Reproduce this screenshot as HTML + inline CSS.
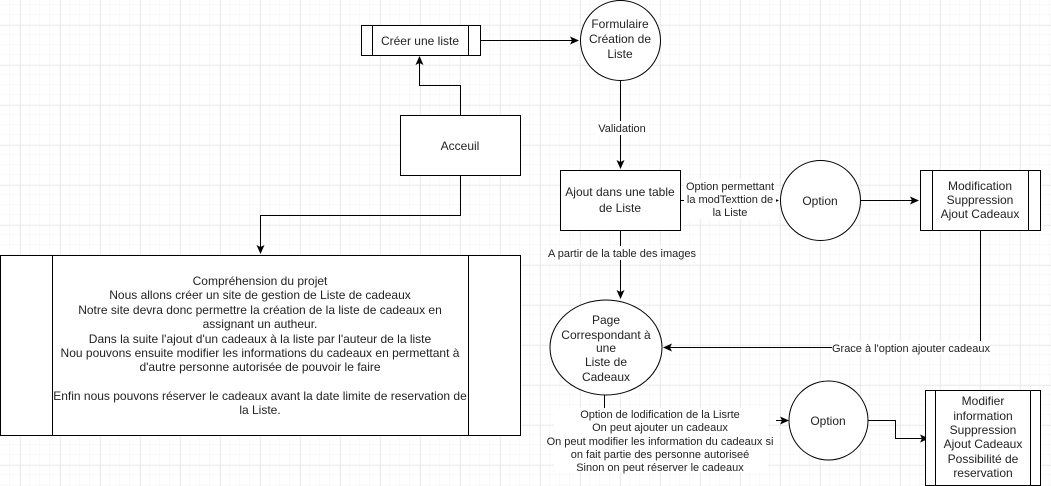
<!DOCTYPE html>
<html><head><meta charset="utf-8"><style>
body{margin:0;width:1051px;height:486px;overflow:hidden;background:#fff;}
svg{display:block;font-family:"Liberation Sans",Arial,sans-serif;font-size:12px;}
</style></head><body>
<svg width="1051" height="486" viewBox="0 0 1051 486">
<defs>
<pattern id="mi" width="10" height="10" patternUnits="userSpaceOnUse" x="0" y="5"><path d="M10 0V10M0 10H10" stroke="#f3f3f3" stroke-width="1" fill="none"/></pattern>
<pattern id="ma" width="40" height="40" patternUnits="userSpaceOnUse" x="20.5" y="25.5"><path d="M0 0V40M0 0H40" stroke="#dedede" stroke-width="1" fill="none"/></pattern>
<marker id="a" markerWidth="10" markerHeight="10" refX="8" refY="4" orient="auto" markerUnits="userSpaceOnUse"><path d="M0 0L9 4L0 8L2 4Z" fill="#000"/></marker>
</defs>
<rect width="1051" height="486" fill="url(#mi)"/>
<rect width="1051" height="486" fill="url(#ma)"/>
<g stroke="#000" stroke-width="1" fill="none">
<path d="M460.5 115V85.5H419.5V57" marker-end="url(#a)"/>
<path d="M460.5 175V215.5H260.5V253" marker-end="url(#a)"/>
<path d="M480 40.5H578" marker-end="url(#a)"/>
<path d="M620.5 80V168" marker-end="url(#a)"/>
<path d="M680 200.5H778" marker-end="url(#a)"/>
<path d="M860 200.5H918" marker-end="url(#a)"/>
<path d="M620.5 230V298" marker-end="url(#a)"/>
<path d="M980.5 230V347.5H664" marker-end="url(#a)"/>
<path d="M604.5 395V410"/>
<path d="M776 420.5H788" marker-end="url(#a)"/>
<path d="M867 420.5H895.5V438.5H928" marker-end="url(#a)"/>
<rect x="0.5" y="255.5" width="520" height="180" fill="#fff"/>
<path d="M52.5 255.5V435.5M468.5 255.5V435.5"/>
<rect x="361.5" y="25.5" width="119" height="30" fill="#fff"/>
<path d="M372.5 25.5V55.5M468.5 25.5V55.5"/>
<rect x="400.5" y="115.5" width="120" height="60" fill="#fff"/>
<circle cx="620.5" cy="40.5" r="40" fill="#fff"/>
<rect x="560.5" y="170.5" width="120" height="60" fill="#fff"/>
<circle cx="820.5" cy="200.5" r="40" fill="#fff"/>
<rect x="920.5" y="170.5" width="120" height="60" fill="#fff"/>
<path d="M932.5 170.5V230.5M1028.5 170.5V230.5"/>
<ellipse cx="606" cy="347.5" rx="56" ry="47.5" fill="#fff"/>
<circle cx="828.5" cy="420.5" r="39.5" fill="#fff"/>
<rect x="925.5" y="390.5" width="115" height="95" fill="#fff"/>
<path d="M935.5 390.5V485.5M1030.5 390.5V485.5"/>
</g>
<g fill="#222" text-anchor="middle">
<text x="420" y="45">Créer une liste</text>
<text x="620" y="28">Formulaire</text><text x="620" y="43">Création de</text><text x="620" y="58">Liste</text>
<text x="460" y="150">Acceuil</text>
<text x="620" y="196">Ajout dans une table</text><text x="620" y="212">de Liste</text>
<text x="820" y="205">Option</text>
<text x="980" y="190">Modification</text><text x="980" y="204">Suppression</text><text x="980" y="218">Ajout Cadeaux</text>
<text x="606" y="324">Page</text><text x="606" y="339">Correspondant à</text><text x="606" y="352">une</text><text x="606" y="366">Liste de</text><text x="606" y="381">Cadeaux</text>
<text x="828" y="425">Option</text>
<text x="983" y="405">Modifier</text><text x="983" y="420">information</text><text x="983" y="434">Suppression</text><text x="983" y="448">Ajout Cadeaux</text><text x="983" y="463">Possibilité de</text><text x="983" y="477">reservation</text>
<g font-size="12">
<text x="260" y="285">Compréhension du projet</text>
<text x="260" y="299">Nous allons créer un site de gestion de Liste de cadeaux</text>
<text x="260" y="314">Notre site devra donc permettre la création de la liste de cadeaux en</text>
<text x="260" y="328">assignant un autheur.</text>
<text x="260" y="343">Dans la suite l'ajout d'un cadeaux à la liste par l'auteur de la liste</text>
<text x="260" y="357">Nou pouvons ensuite modifier les informations du cadeaux en permettant à</text>
<text x="260" y="371">d'autre personne autorisée de pouvoir le faire</text>
<text x="260" y="400">Enfin nous pouvons réserver le cadeaux avant la date limite de reservation de</text>
<text x="260" y="414">la Liste.</text>
</g>
</g>
<g fill="#222" text-anchor="middle" font-size="11">
<rect x="596" y="121" width="52" height="14" fill="#fff"/>
<text x="622" y="132">Validation</text>
<rect x="684" y="179" width="92" height="40" fill="#fff"/>
<text x="730" y="190">Option permettant</text><text x="730" y="203">la modTexttion de</text><text x="730" y="216">la Liste</text>
<rect x="546" y="246" width="152" height="14" fill="#fff"/>
<text x="622" y="257">A partir de la table des images</text>
<rect x="832" y="341" width="158" height="14" fill="#fff"/>
<text x="911" y="352">Grace à l'option ajouter cadeaux</text>
<rect x="554" y="408" width="214" height="64" fill="#fff"/>
<text x="660" y="418">Option de lodification de la Lisrte</text>
<text x="660" y="431">On peut ajouter un cadeaux</text>
<text x="660" y="445">On peut modifier les information du cadeaux  si</text>
<text x="660" y="458">on fait partie des personne autoriseé</text>
<text x="660" y="471">Sinon on peut réserver le cadeaux</text>
</g>
</svg>
</body></html>
